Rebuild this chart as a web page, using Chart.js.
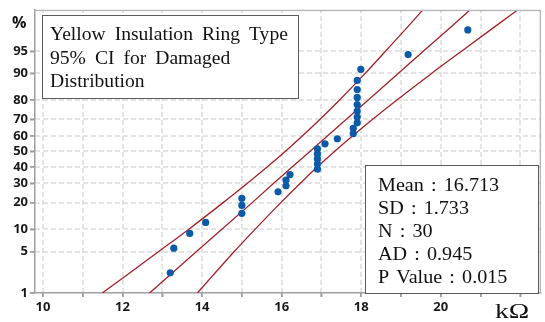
<!DOCTYPE html>
<html>
<head>
<meta charset="utf-8">
<script src="https://cdn.jsdelivr.net/npm/chart.js@4/dist/chart.umd.min.js"></script>
<style>
  html, body { margin: 0; padding: 0; background: #fff; }
  #wrap { width: 545px; height: 322px; position: relative; }
</style>
</head>
<body>
<div id="wrap"><canvas id="probChart"></canvas></div>
<script>
// data
const resistance = [13.20, 13.29, 13.69, 14.09, 15.0, 15.0, 15.0, 15.91, 16.11, 16.11,
                    16.21, 16.9, 16.9, 16.9, 16.9, 16.9, 17.09, 17.4, 17.8, 17.8,
                    17.9, 17.9, 17.9, 17.9, 17.9, 17.9, 17.9, 17.99, 19.18, 20.68];
const cumPercent = [2.30, 5.59, 8.88, 12.17, 15.46, 18.75, 22.04, 25.33, 28.62, 31.91,
                    35.20, 38.49, 41.78, 45.07, 48.36, 51.64, 54.93, 58.22, 61.51, 64.80,
                    68.09, 71.38, 74.67, 77.96, 81.25, 84.54, 87.83, 91.12, 94.41, 97.70];

// fitted line and 95% CI bands, x read at these percent levels
const bandPercent = [1, 2, 5, 10, 20, 30, 40, 50, 60, 70, 80, 90, 95, 98, 99];
const fitX   = [12.68, 13.15, 13.86, 14.49, 15.26, 15.80, 16.27, 16.71, 17.15, 17.62, 18.17, 18.93, 19.56, 20.27, 20.74];
const lowerX = [11.49, 12.06, 12.91, 13.66, 14.53, 15.14, 15.64, 16.09, 16.52, 16.96, 17.45, 18.10, 18.61, 19.18, 19.55];
const upperX = [13.88, 14.25, 14.81, 15.33, 15.98, 16.47, 16.90, 17.33, 17.78, 18.28, 18.89, 19.77, 20.52, 21.37, 21.94];

const probTicks = [1, 5, 10, 20, 30, 40, 50, 60, 70, 80, 90, 95];
const xGridTicks = [10, 11, 12, 13, 14, 15, 16, 17, 18, 19, 20, 21, 22];
const xLabelTicks = [10, 12, 14, 16, 18, 20];

const titleLines = ['Yellow Insulation Ring Type', '95% CI for Damaged', 'Distribution'];
const statNames = ['Mean', 'SD', 'N', 'AD', 'P Value'];
const statValues = ['16.713', '1.733', '30', '0.945', '0.015'];

const X_MIN = 9.8, X_MAX = 22.52, P_MIN = 1, P_MAX = 99;

// inverse normal cdf (Acklam)
function qnorm(p) {
  const a = [-3.969683028665376e+01, 2.209460984245205e+02, -2.759285104469687e+02, 1.383577518672690e+02, -3.066479806614716e+01, 2.506628277459239e+00];
  const b = [-5.447609879822406e+01, 1.615858368580409e+02, -1.556989798598866e+02, 6.680131188771972e+01, -1.328068155288572e+01];
  const c = [-7.784894002430293e-03, -3.223964580411365e-01, -2.400758277161838e+00, -2.549732539343734e+00, 4.374664141464968e+00, 2.938163982698783e+00];
  const d = [7.784695709041462e-03, 3.224671290700398e-01, 2.445134137142996e+00, 3.754408661907416e+00];
  const pl = 0.02425;
  if (p < pl) {
    const q = Math.sqrt(-2 * Math.log(p));
    return (((((c[0]*q+c[1])*q+c[2])*q+c[3])*q+c[4])*q+c[5]) / ((((d[0]*q+d[1])*q+d[2])*q+d[3])*q+1);
  }
  if (p > 1 - pl) {
    const q = Math.sqrt(-2 * Math.log(1 - p));
    return -(((((c[0]*q+c[1])*q+c[2])*q+c[3])*q+c[4])*q+c[5]) / ((((d[0]*q+d[1])*q+d[2])*q+d[3])*q+1);
  }
  const q = p - 0.5, r = q * q;
  return (((((a[0]*r+a[1])*r+a[2])*r+a[3])*r+a[4])*r+a[5])*q / (((((b[0]*r+b[1])*r+b[2])*r+b[3])*r+b[4])*r+1);
}

// normal probability axis (percent values)
class ProbabilityScale extends Chart.LinearScale {
  determineDataLimits() {
    this.min = this.options.min;
    this.max = this.options.max;
  }
  buildTicks() {
    return probTicks.map(v => ({ value: v }));
  }
  getPixelForValue(value) {
    const z0 = qnorm(this.min / 100), z1 = qnorm(this.max / 100);
    return this.getPixelForDecimal((qnorm(value / 100) - z0) / (z1 - z0));
  }
  getValueForPixel(pixel) {
    const dec = this.getDecimalForPixel(pixel);
    const z0 = qnorm(this.min / 100), z1 = qnorm(this.max / 100);
    const z = z0 + dec * (z1 - z0);
    let lo = 1e-6, hi = 1 - 1e-6;
    for (let i = 0; i < 50; i++) {
      const mid = (lo + hi) / 2;
      if (qnorm(mid) < z) lo = mid; else hi = mid;
    }
    return lo * 100;
  }
}
ProbabilityScale.id = 'probability';
ProbabilityScale.defaults = {};
Chart.register(ProbabilityScale);

const toPoints = (xs, ps) => xs.map((x, i) => ({ x: x, y: ps[i] }));

const lineColor = '#a3222a';
const serif = '"Liberation Serif", "Times New Roman", serif';

// stretched text helper (the original text is a bit wide)
function wideText(ctx, text, x, y, sx) {
  ctx.save();
  ctx.translate(x, y);
  ctx.scale(sx, 1);
  ctx.fillText(text, 0, 0);
  ctx.restore();
}

// plot edges taken from the scales themselves
function plotBox(chart) {
  const xs = chart.scales.x, ys = chart.scales.y;
  return {
    left: xs.getPixelForValue(X_MIN),
    right: xs.getPixelForValue(X_MAX),
    top: ys.getPixelForValue(P_MAX),
    bottom: ys.getPixelForValue(P_MIN)
  };
}

// dashes drawn by hand as small filled rects
function dashedH(ctx, x1, x2, y, on, off, w) {
  for (let s = x1; s < x2; s += on + off) ctx.fillRect(s, y - w / 2, Math.min(on, x2 - s), w);
}
function dashedV(ctx, x, y1, y2, on, off, w) {
  for (let s = y1; s > y2; s -= on + off) ctx.fillRect(x - w / 2, Math.max(s - on, y2), w, Math.min(on, s - y2));
}

const boxesPlugin = {
  id: 'boxes',
  afterDraw(chart) {
    const ctx = chart.ctx;
    const a = plotBox(chart);
    const xs = chart.scales.x, ys = chart.scales.y;
    ctx.save();

    // dashed grid, slid underneath everything already drawn
    ctx.globalCompositeOperation = 'destination-over';
    ctx.fillStyle = '#d6d6d6';
    xGridTicks.forEach(v => {
      const px = Math.round(xs.getPixelForValue(v));
      dashedV(ctx, px, a.bottom, a.top, 5, 3, 1.3);
    });
    probTicks.forEach(v => {
      const py = Math.round(ys.getPixelForValue(v));
      if (py > a.bottom - 2) return;
      dashedH(ctx, a.left, a.right, py, 5, 3, 1.3);
    });
    ctx.globalCompositeOperation = 'source-over';

    // tick marks
    ctx.fillStyle = '#a0a0a0';
    probTicks.forEach(v => ctx.fillRect(a.left - 5, Math.round(ys.getPixelForValue(v)) - 0.6, 5, 1.2));
    xGridTicks.forEach(v => ctx.fillRect(Math.round(xs.getPixelForValue(v)) - 0.6, a.bottom, 1.2, 4));

    // frame top / right
    ctx.fillStyle = '#b4b4b4';
    ctx.fillRect(a.left, a.top, a.right - a.left, 1.3);
    ctx.fillRect(a.right - 1.3, a.top, 1.3, a.bottom - a.top);

    // title box
    ctx.fillStyle = '#fff';
    ctx.fillRect(42, 15, 256, 83);
    ctx.strokeStyle = '#5a5a5a';
    ctx.lineWidth = 1;
    ctx.strokeRect(42.5, 15.5, 256, 83);
    ctx.fillStyle = '#111';
    ctx.font = '19px ' + serif;
    ctx.textBaseline = 'alphabetic';
    ctx.textAlign = 'left';
    ctx.wordSpacing = '4px';
    titleLines.forEach((t, i) => wideText(ctx, t, 50, 40 + i * 23.5, 1.03));
    ctx.wordSpacing = '0px';

    // stats box
    ctx.fillStyle = '#fff';
    ctx.fillRect(365, 165, 173, 128);
    ctx.strokeStyle = '#5a5a5a';
    ctx.strokeRect(365.5, 165.5, 173, 128);
    ctx.fillStyle = '#111';
    ctx.font = '19px ' + serif;
    ctx.wordSpacing = '2px';
    statNames.forEach((n, i) => wideText(ctx, n + ' : ' + statValues[i], 378, 191 + i * 23.1, 1.06));
    ctx.wordSpacing = '0px';

    // axis unit labels
    ctx.font = 'bold 16px "Open Sans", sans-serif';
    ctx.fillText('%', 12, 28);
    ctx.font = '22px ' + serif;
    wideText(ctx, 'k\u03a9', 495, 318, 1.25);
    ctx.restore();
  }
};

const chartCtx = document.getElementById('probChart').getContext('2d');
const probChart = new Chart(chartCtx, {
  type: 'scatter',
  data: {
    datasets: [{
      label: 'Data',
      data: toPoints(resistance, cumPercent),
      backgroundColor: '#0b5aa8',
      borderColor: '#0b5aa8',
      pointRadius: 3.6,
      borderWidth: 0,
      order: 0
    }, {
      label: 'Fit',
      data: toPoints(fitX, bandPercent),
      showLine: true,
      borderColor: lineColor,
      borderWidth: 1.3,
      pointRadius: 0,
      order: 1
    }, {
      label: 'Lower',
      data: toPoints(lowerX, bandPercent),
      showLine: true,
      borderColor: lineColor,
      borderWidth: 1.3,
      pointRadius: 0,
      cubicInterpolationMode: 'monotone',
      order: 1
    }, {
      label: 'Upper',
      data: toPoints(upperX, bandPercent),
      showLine: true,
      borderColor: lineColor,
      borderWidth: 1.3,
      pointRadius: 0,
      cubicInterpolationMode: 'monotone',
      order: 1
    }]
  },
  options: {
    responsive: true,
    maintainAspectRatio: false,
    animation: false,
    events: [],
    layout: { padding: { top: 6, right: 2, left: 0, bottom: 0 } },
    scales: {
      x: {
        type: 'linear',
        min: X_MIN,
        max: X_MAX,
        afterBuildTicks: scale => { scale.ticks = xGridTicks.map(v => ({ value: v })); },
        afterFit: scale => { scale.height = 29; },
        ticks: {
          autoSkip: false,
          maxRotation: 0,
          padding: 2,
          color: '#1a1a1a',
          font: { family: '"Open Sans", sans-serif', size: 13, weight: 'bold' },
          callback: v => xLabelTicks.includes(v) ? String(v) : ''
        },
        grid: { drawOnChartArea: false, color: '#a0a0a0', tickLength: 4, lineWidth: 1.5 },
        border: { color: '#a0a0a0', width: 1.5 }
      },
      y: {
        type: 'probability',
        min: P_MIN,
        max: P_MAX,
        afterFit: scale => { scale.width = 35; },
        ticks: {
          autoSkip: false,
          padding: 2,
          color: '#1a1a1a',
          font: { family: '"Open Sans", sans-serif', size: 13, weight: 'bold' },
          callback: v => String(v)
        },
        grid: { drawOnChartArea: false, color: '#a0a0a0', tickLength: 5, lineWidth: 1.5 },
        border: { color: '#a0a0a0', width: 1.5 }
      }
    },
    plugins: {
      legend: { display: false },
      tooltip: { enabled: false }
    }
  },
  plugins: [boxesPlugin]
});
</script>
</body>
</html>
